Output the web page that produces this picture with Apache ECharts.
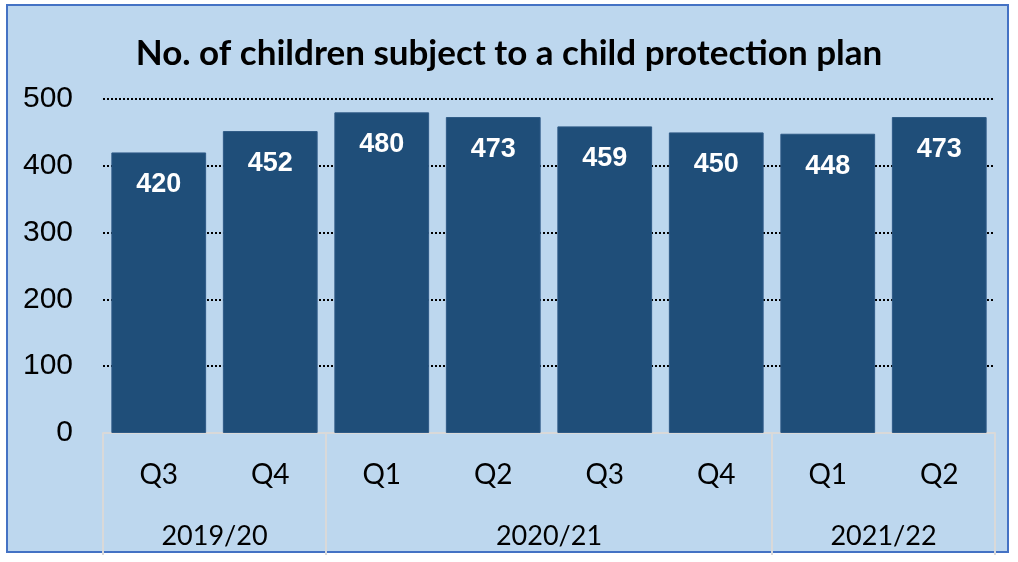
<!DOCTYPE html>
<html>
<head>
<meta charset="utf-8">
<script src="https://cdn.jsdelivr.net/npm/echarts@6/dist/echarts.min.js"></script>
<style>
html,body{margin:0;padding:0;background:#fff;}
#wrap{position:relative;width:1018px;height:562px;background:#fff;}
#frame{position:absolute;left:6px;top:4px;width:999px;height:545px;border:2px solid #4472C4;background:#BDD7EE;}
#chart{position:absolute;left:0;top:0;width:1018px;height:562px;}
</style>
</head>
<body>
<div id="wrap"><div id="frame"></div><div id="chart"></div></div>
<script>
const titleText = 'No. of children subject to a child protection plan';
const quarters = ['Q3','Q4','Q1','Q2','Q3','Q4','Q1','Q2'];
const values = [420,452,480,473,459,450,448,473];
const yearNames = ['2019/20','2020/21','2021/22'];
const yearCounts = [2,4,2];
const yTicks = [0,100,200,300,400,500];

// group boundaries and centers derived from counts
const bounds = [0];
const centers = [];
yearCounts.forEach((c,i)=>{ centers.push(bounds[i] + c/2); bounds.push(bounds[i] + c); });

const chart = echarts.init(document.getElementById('chart'), null, {renderer:'canvas'});
chart.setOption({
  backgroundColor:'transparent',
  animation:false,
  title:{text:titleText,left:'center',top:31,
    textStyle:{fontFamily:'Lato',fontWeight:'bold',fontSize:35,color:'#000'}},
  grid:{left:103,right:23,top:99,bottom:129},
  xAxis:[
    {type:'category',data:quarters,position:'bottom',
     axisLine:{show:true,lineStyle:{color:'#D9D9D9',width:2}},
     axisTick:{show:false},
     axisLabel:{margin:28,fontFamily:'Lato',fontSize:28,color:'#000'}},
    {type:'value',min:0,max:bounds[bounds.length-1],position:'bottom',
     axisLine:{show:false},splitLine:{show:false},
     axisTick:{show:true,customValues:bounds,length:122,inside:false,lineStyle:{color:'#D9D9D9',width:2}},
     axisLabel:{customValues:centers,margin:90,fontFamily:'Lato',fontSize:27,color:'#000',
       formatter:function(v){const i=centers.indexOf(v);return i>=0?yearNames[i]:'';}}}
  ],
  yAxis:{type:'value',min:yTicks[0],max:yTicks[yTicks.length-1],interval:100,
    axisLine:{show:false},axisTick:{show:false},
    axisLabel:{margin:30,fontFamily:'Liberation Sans',fontSize:30,color:'#000'},
    splitLine:{show:true,lineStyle:{type:'dotted',color:'#000',width:2}}},
  series:[{type:'bar',data:values,xAxisIndex:0,barCategoryGap:'15%',
    itemStyle:{color:'#1F4E79',borderColor:'#2E5A86',borderWidth:1},
    label:{show:true,position:'insideTop',distance:19,color:'#fff',
      fontFamily:'Liberation Sans',fontWeight:'bold',fontSize:27}}]
});
</script>
</body>
</html>
